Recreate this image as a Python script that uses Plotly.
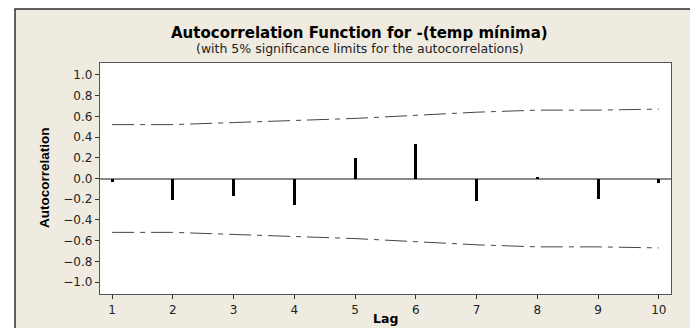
import plotly.graph_objects as go

# ---- data ----
lags = [1, 2, 3, 4, 5, 6, 7, 8, 9, 10]
acf = [-0.03, -0.21, -0.17, -0.26, 0.20, 0.33, -0.22, 0.01, -0.20, -0.04]
upper_limit = [0.52, 0.52, 0.54, 0.56, 0.58, 0.61, 0.64, 0.66, 0.66, 0.67]
lower_limit = [-v for v in upper_limit]
y_ticks = [-1.0, -0.8, -0.6, -0.4, -0.2, 0.0, 0.2, 0.4, 0.6, 0.8, 1.0]

W, H = 690, 328
L, R, T, B = 100, 19, 63, 34
PW, PH = W - L - R, H - T - B


def px_x(x):
    return (x - L) / PW


def px_y(y):
    return (H - B - y) / PH


BEIGE = "#EFEBE1"
dash = "22px,6px,5px,6px"

fig = go.Figure()
fig.add_trace(go.Bar(x=lags, y=acf, width=0.05, marker=dict(color="black", line=dict(width=0)),
                     showlegend=False))
fig.add_trace(go.Scatter(x=lags, y=upper_limit, mode="lines",
                         line=dict(color="#444", width=1, dash=dash), showlegend=False))
fig.add_trace(go.Scatter(x=lags, y=lower_limit, mode="lines",
                         line=dict(color="#444", width=1, dash=dash), showlegend=False))

tickfont = dict(family="DejaVu Sans", size=12, color="#222")

fig.update_layout(
    width=W, height=H,
    margin=dict(l=L, r=R, t=T, b=B, pad=0),
    paper_bgcolor=BEIGE, plot_bgcolor="white",
    xaxis=dict(range=[0.8, 10.2], tickvals=lags, ticktext=[str(v) for v in lags],
               showgrid=False, zeroline=False, showline=True, mirror=True,
               linecolor="#555", linewidth=1.3, ticks="outside", ticklen=4,
               tickcolor="#333", tickfont=tickfont),
    yaxis=dict(range=[-1.115, 1.115], tickvals=y_ticks, tickformat=".1f",
               showgrid=False, zeroline=True, zerolinecolor="#8a8a8a", zerolinewidth=1.5,
               showline=True, mirror=True, linecolor="#555", linewidth=1.3,
               ticks="outside", ticklen=4, tickcolor="#333", tickfont=tickfont),
    bargap=0,
)

# white strips outside the beige frame, and the frame border
fig.add_shape(type="rect", xref="paper", yref="paper", x0=px_x(-20), x1=px_x(15),
              y0=px_y(H + 20), y1=px_y(-20), fillcolor="white", line=dict(width=0), layer="below")
fig.add_shape(type="rect", xref="paper", yref="paper", x0=px_x(-20), x1=px_x(W + 20),
              y0=px_y(9), y1=px_y(-20), fillcolor="white", line=dict(width=0), layer="below")
fig.add_shape(type="path", xref="paper", yref="paper",
              path=f"M {px_x(15)},{px_y(H + 20)} L {px_x(15)},{px_y(9)} L {px_x(W + 20)},{px_y(9)}",
              line=dict(color="#2e2e2e", width=1.5), layer="below")

fig.add_annotation(text="<b>Autocorrelation Function for -(temp mínima)</b>", xref="paper", yref="paper",
                   x=px_x(359), y=px_y(32.5), xanchor="center", yanchor="middle", showarrow=False,
                   font=dict(family="DejaVu Sans", size=15, color="black"))
fig.add_annotation(text="(with 5% significance limits for the autocorrelations)", xref="paper", yref="paper",
                   x=px_x(360), y=px_y(48.5), xanchor="center", yanchor="middle", showarrow=False,
                   font=dict(family="DejaVu Sans", size=12.5, color="#222"))
fig.add_annotation(text="<b>Autocorrelation</b>", xref="paper", yref="paper",
                   x=px_x(44), y=px_y(178), xanchor="center", yanchor="middle", showarrow=False,
                   textangle=-90, font=dict(family="Liberation Sans Narrow, Liberation Sans", size=13.5, color="black"))
fig.add_annotation(text="<b>Lag</b>", xref="paper", yref="paper",
                   x=px_x(385), y=px_y(318), xanchor="center", yanchor="middle", showarrow=False,
                   font=dict(family="DejaVu Sans", size=12.5, color="black"))

fig.write_html("out.html", config={"displayModeBar": False},
               post_script="document.body.style.margin='0';document.body.style.overflow='hidden';")
